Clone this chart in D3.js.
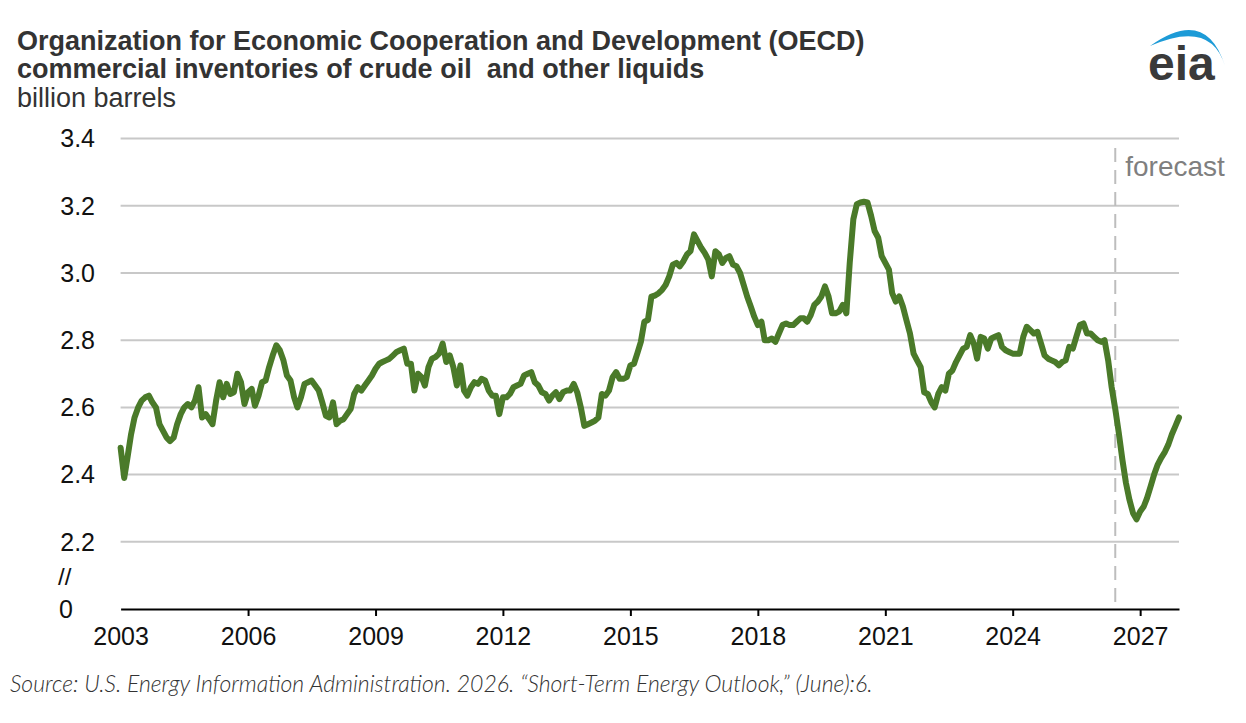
<!DOCTYPE html>
<html>
<head>
<meta charset="utf-8">
<script src="https://cdn.jsdelivr.net/npm/d3@7"></script>
<style>
body { margin: 0; background: #fff; }
text { font-family: "Liberation Sans", Arial, sans-serif; }
</style>
</head>
<body>
<div id="chart"></div>
<script>
// monthly OECD commercial inventories, billion barrels, Jan 2003 - Dec 2027
var startYear = 2003;
var inv2003 = [2.48, 2.39, 2.45, 2.52, 2.57, 2.60, 2.62, 2.63, 2.635, 2.615, 2.60, 2.55];
var inv2004 = [2.53, 2.51, 2.50, 2.51, 2.55, 2.58, 2.60, 2.61, 2.60, 2.62, 2.66, 2.57];
var inv2005 = [2.58, 2.565, 2.55, 2.62, 2.675, 2.63, 2.67, 2.64, 2.645, 2.70, 2.675, 2.61];
var inv2006 = [2.645, 2.655, 2.605, 2.635, 2.675, 2.68, 2.72, 2.755, 2.785, 2.77, 2.74, 2.695];
var inv2007 = [2.68, 2.63, 2.60, 2.63, 2.67, 2.675, 2.68, 2.665, 2.65, 2.615, 2.575, 2.57];
var inv2008 = [2.615, 2.55, 2.56, 2.565, 2.58, 2.595, 2.64, 2.66, 2.65, 2.665, 2.68, 2.695];
var inv2009 = [2.715, 2.73, 2.735, 2.74, 2.745, 2.755, 2.765, 2.77, 2.775, 2.73, 2.73, 2.65];
var inv2010 = [2.70, 2.69, 2.665, 2.72, 2.745, 2.75, 2.76, 2.79, 2.735, 2.755, 2.72, 2.665];
var inv2011 = [2.725, 2.65, 2.635, 2.66, 2.675, 2.67, 2.685, 2.68, 2.65, 2.635, 2.635, 2.58];
var inv2012 = [2.63, 2.63, 2.64, 2.66, 2.665, 2.67, 2.695, 2.70, 2.705, 2.675, 2.665, 2.645];
var inv2013 = [2.64, 2.62, 2.635, 2.645, 2.625, 2.645, 2.65, 2.65, 2.67, 2.645, 2.60, 2.545];
var inv2014 = [2.55, 2.555, 2.56, 2.57, 2.64, 2.635, 2.65, 2.69, 2.705, 2.685, 2.685, 2.69];
var inv2015 = [2.725, 2.73, 2.76, 2.795, 2.855, 2.86, 2.93, 2.933, 2.94, 2.95, 2.965, 2.99];
var inv2016 = [3.025, 3.03, 3.02, 3.035, 3.055, 3.065, 3.115, 3.095, 3.075, 3.06, 3.04, 2.99];
var inv2017 = [3.065, 3.055, 3.03, 3.045, 3.05, 3.025, 3.02, 3.00, 2.965, 2.93, 2.90, 2.87];
var inv2018 = [2.845, 2.855, 2.80, 2.80, 2.805, 2.795, 2.82, 2.845, 2.85, 2.845, 2.845, 2.855];
var inv2019 = [2.865, 2.865, 2.855, 2.875, 2.905, 2.915, 2.93, 2.96, 2.93, 2.88, 2.88, 2.885];
var inv2020 = [2.905, 2.88, 3.03, 3.16, 3.205, 3.21, 3.212, 3.21, 3.17, 3.125, 3.105, 3.05];
var inv2021 = [3.03, 3.01, 2.94, 2.915, 2.93, 2.90, 2.86, 2.82, 2.76, 2.74, 2.72, 2.645];
var inv2022 = [2.64, 2.615, 2.60, 2.64, 2.66, 2.65, 2.70, 2.71, 2.735, 2.755, 2.775, 2.78];
var inv2023 = [2.815, 2.79, 2.745, 2.81, 2.805, 2.775, 2.805, 2.81, 2.815, 2.78, 2.77, 2.765];
var inv2024 = [2.76, 2.76, 2.76, 2.81, 2.84, 2.83, 2.82, 2.825, 2.79, 2.755, 2.745, 2.74];
var inv2025 = [2.735, 2.725, 2.735, 2.74, 2.78, 2.775, 2.81, 2.845, 2.85, 2.82, 2.82, 2.81];
var inv2026 = [2.80, 2.795, 2.80, 2.74, 2.66, 2.595, 2.525, 2.445, 2.375, 2.325, 2.285, 2.267];
var inv2027 = [2.29, 2.305, 2.33, 2.365, 2.40, 2.43, 2.45, 2.467, 2.49, 2.52, 2.545, 2.57];

var yTicks = [2.2, 2.4, 2.6, 2.8, 3.0, 3.2, 3.4];
var xTickYears = [2003, 2006, 2009, 2012, 2015, 2018, 2021, 2024, 2027];
var forecastStart = [2026, 5]; // June 2026

var titleLines = ["Organization for Economic Cooperation and Development (OECD)",
                  "commercial inventories of crude oil  and other liquids"];
var unitLabel = "billion barrels";
var sourceNote = "Source: U.S. Energy Information Administration. 2026. \u201cShort-Term Energy Outlook,\u201d (June):6.";

var allYears = [inv2003, inv2004, inv2005, inv2006, inv2007, inv2008, inv2009, inv2010, inv2011,
  inv2012, inv2013, inv2014, inv2015, inv2016, inv2017, inv2018, inv2019, inv2020, inv2021,
  inv2022, inv2023, inv2024, inv2025, inv2026, inv2027];

var data = [];
allYears.forEach(function (vals, i) {
  vals.forEach(function (v, m) {
    data.push({ date: new Date(startYear + i, m, 1), value: v });
  });
});

var W = 1246, H = 723;
var svg = d3.select("#chart").append("svg").attr("width", W).attr("height", H);
svg.append("rect").attr("width", W).attr("height", H).attr("fill", "#fff");

var x = d3.scaleTime().domain([new Date(2003, 0, 1), new Date(2027, 11, 1)]).range([120.6, 1179]);
var y = d3.scaleLinear().domain([2.0, 3.4]).range([609, 138.6]);

// title block
svg.selectAll(".title").data(titleLines).enter().append("text")
  .attr("class", "title")
  .attr("x", 17).attr("y", function (d, i) { return 50 + i * 28; })
  .attr("font-size", "27px").attr("font-weight", "bold").attr("fill", "#333")
  .style("white-space", "pre")
  .text(function (d) { return d; });
svg.append("text").attr("x", 17).attr("y", 107)
  .attr("font-size", "27px").attr("fill", "#333").text(unitLabel);

// eia logo
svg.append("path")
  .attr("d", "M1150,46 Q1206,6 1225,66 Q1211,19 1150,46 Z")
  .attr("fill", "#1d9bd7");
svg.append("text").attr("x", 1148).attr("y", 80)
  .attr("font-size", "48px").attr("font-weight", "bold").attr("fill", "#3a3a3a")
  .text("eia");

// gridlines
svg.selectAll(".grid").data(yTicks).enter().append("line")
  .attr("class", "grid")
  .attr("x1", x.range()[0]).attr("x2", x.range()[1])
  .attr("y1", function (d) { return y(d); }).attr("y2", function (d) { return y(d); })
  .attr("stroke", "#c8c8c8").attr("stroke-width", 2);

svg.selectAll(".ylab").data(yTicks).enter().append("text")
  .attr("class", "ylab")
  .attr("x", 95).attr("y", function (d) { return y(d); }).attr("dy", "0.35em")
  .attr("text-anchor", "end").attr("font-size", "25px").attr("fill", "#111")
  .text(function (d) { return d.toFixed(1); });

// broken axis marks
svg.append("text").attr("x", 58).attr("y", 577).attr("dy", "0.35em")
  .attr("font-size", "24px").attr("fill", "#111").text("//");
svg.append("text").attr("x", 59).attr("y", 609).attr("dy", "0.35em")
  .attr("font-size", "25px").attr("fill", "#111").text("0");

// forecast divider
var fx = x(new Date(forecastStart[0], forecastStart[1], 1));
svg.append("line")
  .attr("x1", fx).attr("x2", fx).attr("y1", 148).attr("y2", 609)
  .attr("stroke", "#bdbdbd").attr("stroke-width", 2).attr("stroke-dasharray", "14,8");
svg.append("text").attr("x", fx + 10).attr("y", 176)
  .attr("font-size", "28px").attr("fill", "#7f7f7f").text("forecast");

// x axis
var xAxis = d3.axisBottom(x)
  .tickValues(xTickYears.map(function (yr) { return new Date(yr, 0, 1); }))
  .tickFormat(d3.timeFormat("%Y"))
  .tickSize(7).tickSizeOuter(0).tickPadding(11);
var gx = svg.append("g").attr("transform", "translate(0,609)").call(xAxis);
gx.select(".domain").attr("stroke", "#000").attr("stroke-width", 2);
gx.selectAll(".tick line").attr("stroke", "#000").attr("stroke-width", 2);
gx.select(".tick line").remove();
gx.selectAll(".tick text").attr("font-size", "25px").attr("fill", "#111")
  .attr("font-family", "\"Liberation Sans\", Arial, sans-serif");

// series
var line = d3.line()
  .x(function (d) { return x(d.date); })
  .y(function (d) { return y(d.value); });
svg.append("path").datum(data)
  .attr("d", line)
  .attr("fill", "none").attr("stroke", "#4a7a29").attr("stroke-width", 6)
  .attr("stroke-linejoin", "round").attr("stroke-linecap", "round");

// source
svg.append("text").attr("x", 10).attr("y", 692)
  .attr("font-size", "23px").attr("font-style", "italic").attr("font-weight", 300)
  .attr("fill", "#333").style("font-family", "Lato, 'Open Sans', sans-serif")
  .text(sourceNote);
</script>
</body>
</html>
